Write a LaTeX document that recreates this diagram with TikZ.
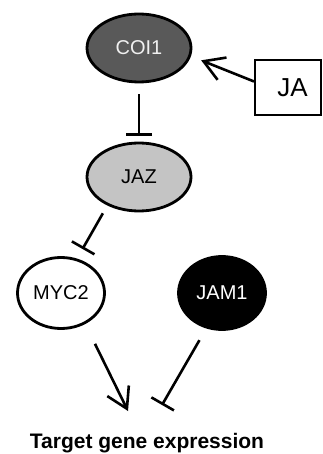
\documentclass[tikz,border=0pt]{standalone}
\usepackage{fontspec}
\setmainfont{Liberation Sans}
\usetikzlibrary{arrows.meta,shapes.geometric}
\definecolor{coigray}{HTML}{595959}
\definecolor{jazgray}{HTML}{C4C4C4}
\definecolor{coitext}{HTML}{F0F0F0}
\begin{document}
\begin{tikzpicture}[x=1pt,y=-1pt,
  protein/.style={ellipse, draw=black, line width=2.8pt, inner sep=0pt,
    font=\fontsize{20}{24}\selectfont},
  link/.style={line width=2.6pt},
  activates/.style={link, -{Straight Barb[length=20pt,width=24pt]}},
  represses/.style={link, -{Bar[width=26pt]}},
]
\useasboundingbox (0,0) rectangle (322,454);

% signalling components
\node[protein, fill=coigray, text=coitext, minimum width=104pt, minimum height=68pt]
  (coi1) at (139,48) {COI1};
\node[protein, fill=jazgray, minimum width=104pt, minimum height=68pt]
  (jaz) at (139,177) {JAZ};
\node[protein, fill=white, minimum width=87pt, minimum height=71pt]
  (myc2) at (61,293) {MYC2};
\node[protein, fill=black, text=white, minimum width=87pt, minimum height=73pt]
  (jam1) at (222,293) {JAM1};
\node[draw=black, line width=2pt, minimum width=66pt, minimum height=55pt, inner sep=0pt,
  font=\fontsize{26}{30}\selectfont] (ja) at (288,87.5) {\hspace*{9pt}JA};

% output
\node[anchor=base, font=\bfseries\fontsize{21}{25}\selectfont] (target) at (147,448.5)
  {Target gene expression};
\coordinate (upin) at (128,411);
\coordinate (downin) at (162,405);

% interactions
\draw[activates, shorten >=11pt] (ja.170) -- (coi1.-9);
\draw[represses, shorten <=11pt, shorten >=6pt] (coi1.south) -- (jaz.north);
\draw[represses, shorten <=9pt, shorten >=11pt] (jaz.-138) -- (myc2.65);
\draw[activates, shorten <=22pt] (myc2.-52) -- (upin);
\draw[represses, shorten <=13.5pt] (jam1.-114) -- (downin);
\end{tikzpicture}
\end{document}
